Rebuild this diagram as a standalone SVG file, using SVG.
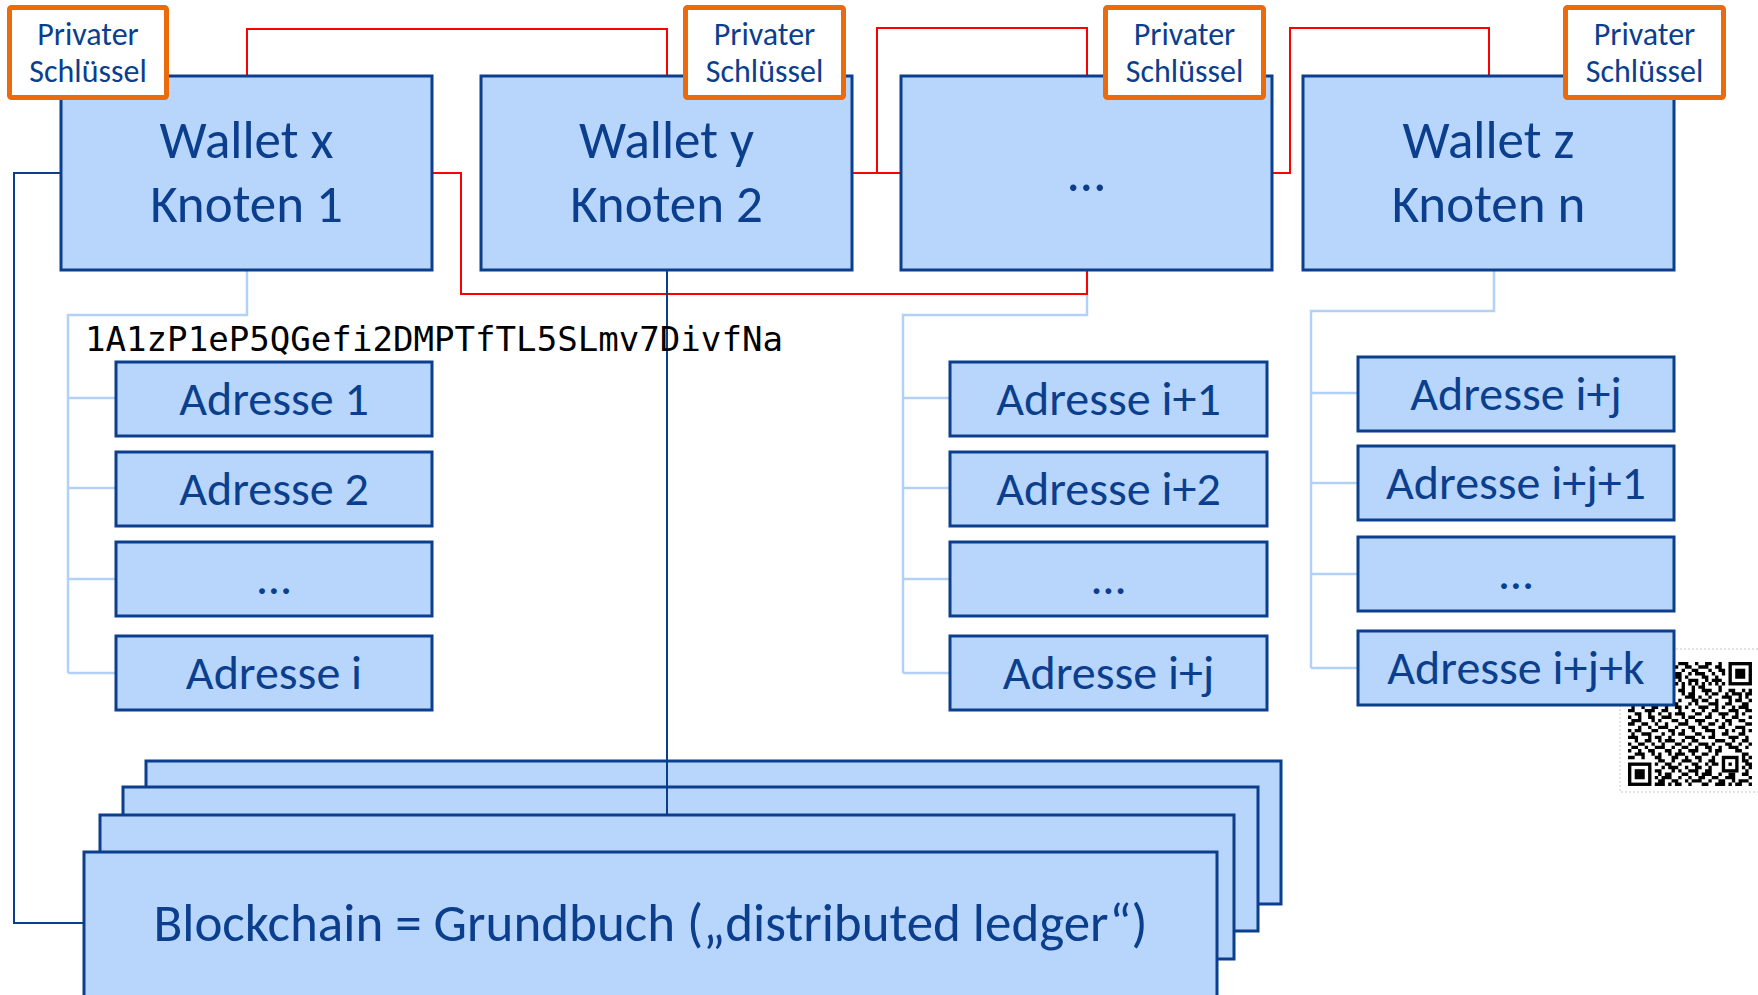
<svg xmlns="http://www.w3.org/2000/svg" width="1758" height="995" viewBox="0 0 1758 995">
  <style>
    .box { fill: #B8D6FC; stroke: #0B3F8E; stroke-width: 3; }
    .key { fill: #FFFFFF; stroke: #EB6A0B; stroke-width: 5; }
    .t { font-family: Carlito, Lato, "Liberation Sans", sans-serif; fill: #0B3F8E; text-anchor: middle; }
    .wt { font-size: 53px; }
    .at { font-size: 48px; }
    .kt { font-size: 32px; }
    .bt { font-size: 53px; }
    .red { fill: none; stroke: #FF0000; stroke-width: 2; }
    .lb { fill: none; stroke: #B3D1F7; stroke-width: 2.5; }
    .db { fill: none; stroke: #0B3F8E; stroke-width: 2; }
    .mono { font-family: "DejaVu Sans Mono", "Liberation Mono", monospace; font-size: 34px; fill: #000000; }
  </style>

  <!-- stacked ledger copies (back layers) -->
  <g id="ledger-back">
    <rect class="box" x="146" y="761" width="1135" height="143"/>
    <rect class="box" x="123" y="787" width="1135" height="144"/>
  </g>

  <!-- connectors -->
  <g id="connectors">
    <!-- address trees -->
    <path class="lb" d="M247 270V315H68V673M68 398H116M68 488H116M68 579H116M68 673H116"/>
    <path class="lb" d="M1087 270V315H903V673M903 398H950M903 488H950M903 579H950M903 673H950"/>
    <path class="lb" d="M1494 270V311H1311V668M1311 393H1358M1311 483H1358M1311 574H1358M1311 668H1358"/>
    <!-- peer links between nodes -->
    <path class="red" d="M247 76V29H667V76"/>
    <path class="red" d="M432 173H461V294H1087V270"/>
    <path class="red" d="M852 173H901M877 173V28H1087V76"/>
    <path class="red" d="M1272 173H1290V28H1489V76"/>
    <!-- nodes to ledger -->
    <path class="db" d="M61 173H14V923H84"/>
    <path class="db" d="M667 270V815"/>
  </g>

  <!-- front ledger copies -->
  <g id="ledger">
    <rect class="box" x="100" y="815" width="1134" height="144"/>
    <rect class="box" x="84" y="852" width="1133" height="150"/>
    <text class="t bt" x="650.5" y="941">Blockchain = Grundbuch („distributed ledger“)</text>
  </g>

  <!-- wallets -->
  <g id="wallet-x">
    <rect class="box" x="61" y="76" width="371" height="194"/>
    <text class="t wt" x="246.5" y="158">Wallet x</text>
    <text class="t wt" x="246.5" y="222">Knoten 1</text>
  </g>
  <g id="wallet-y">
    <rect class="box" x="481" y="76" width="371" height="194"/>
    <text class="t wt" x="666.5" y="158">Wallet y</text>
    <text class="t wt" x="666.5" y="222">Knoten 2</text>
  </g>
  <g id="wallet-dots">
    <rect class="box" x="901" y="76" width="371" height="194"/>
    <text class="t wt" x="1086.5" y="191">…</text>
  </g>
  <g id="wallet-z">
    <rect class="box" x="1303" y="76" width="371" height="194"/>
    <text class="t wt" x="1488.5" y="158">Wallet z</text>
    <text class="t wt" x="1488.5" y="222">Knoten n</text>
  </g>

  <!-- private keys -->
  <g id="key-1">
    <rect class="key" x="9.5" y="7.5" width="157" height="90" rx="2"/>
    <text class="t kt" x="88" y="45">Privater</text>
    <text class="t kt" x="88" y="82">Schlüssel</text>
  </g>
  <g id="key-2">
    <rect class="key" x="685.5" y="7.5" width="158" height="90" rx="2"/>
    <text class="t kt" x="764.5" y="45">Privater</text>
    <text class="t kt" x="764.5" y="82">Schlüssel</text>
  </g>
  <g id="key-3">
    <rect class="key" x="1105.5" y="7.5" width="158" height="90" rx="2"/>
    <text class="t kt" x="1184.5" y="45">Privater</text>
    <text class="t kt" x="1184.5" y="82">Schlüssel</text>
  </g>
  <g id="key-4">
    <rect class="key" x="1565.5" y="7.5" width="158" height="90" rx="2"/>
    <text class="t kt" x="1644.5" y="45">Privater</text>
    <text class="t kt" x="1644.5" y="82">Schlüssel</text>
  </g>

  <!-- example address string -->
  <g id="address-string">
    <text class="mono" x="85" y="351" textLength="698" lengthAdjust="spacingAndGlyphs">1A1zP1eP5QGefi2DMPTfTL5SLmv7DivfNa</text>
  </g>

  <!-- QR code of the address -->
  <g id="qr">
    <path d="M1620 649H1760M1620 649V792H1760" fill="none" stroke="#D9D9D9" stroke-width="1.5" stroke-dasharray="2 2"/>
    <rect x="1621" y="650" width="140" height="141" fill="#FFFFFF"/>
    <g transform="translate(1628 662) scale(3.35)" fill="none" stroke="#000000">
      <rect x="0.5" y="0.5" width="6" height="6" stroke-width="1"/>
      <rect x="30.5" y="0.5" width="6" height="6" stroke-width="1"/>
      <rect x="0.5" y="30.5" width="6" height="6" stroke-width="1"/>
      <rect x="28.5" y="28.5" width="4" height="4" stroke-width="1"/>
      <rect x="2" y="2" width="3" height="3" fill="#000000" stroke="none"/>
      <rect x="32" y="2" width="3" height="3" fill="#000000" stroke="none"/>
      <rect x="2" y="32" width="3" height="3" fill="#000000" stroke="none"/>
      <rect x="30" y="30" width="1" height="1" fill="#000000" stroke="none"/>
      <path stroke-width="1" d="
M9 0.5h2M12 0.5h1M15 0.5h3M20 0.5h1M23 0.5h2M27 0.5h1
M8 1.5h1M10 1.5h2M14 1.5h1M17 1.5h2M21 1.5h3M26 1.5h2
M9 2.5h1M11 2.5h3M16 2.5h1M19 2.5h2M24 2.5h1M27 2.5h2
M8 3.5h2M12 3.5h1M14 3.5h2M18 3.5h1M20 3.5h3M25 3.5h1M28 3.5h1
M10 4.5h1M13 4.5h3M17 4.5h1M22 4.5h2M26 4.5h1
M8 5.5h1M11 5.5h2M15 5.5h1M18 5.5h3M23 5.5h1M25 5.5h3
M8 6.5h1M10 6.5h1M12 6.5h1M14 6.5h1M16 6.5h1M18 6.5h1M20 6.5h1M22 6.5h1M24 6.5h1M26 6.5h1M28 6.5h1
M9 7.5h1M12 7.5h2M16 7.5h1M19 7.5h1M21 7.5h2M27 7.5h1
M0 8.5h1M2 8.5h3M6 8.5h1M8 8.5h2M12 8.5h1M15 8.5h2M19 8.5h1M22 8.5h3M27 8.5h1M30 8.5h2M34 8.5h1M36 8.5h1
M1 9.5h2M5 9.5h1M9 9.5h1M11 9.5h3M16 9.5h1M18 9.5h2M23 9.5h1M25 9.5h2M29 9.5h1M31 9.5h3M35 9.5h2
M0 10.5h3M4 10.5h1M6 10.5h1M8 10.5h1M12 10.5h2M17 10.5h3M21 10.5h1M24 10.5h1M28 10.5h3M33 10.5h1M35 10.5h1
M2 11.5h1M5 11.5h2M9 11.5h2M13 11.5h1M15 11.5h1M19 11.5h2M22 11.5h2M26 11.5h1M30 11.5h1M32 11.5h2M36 11.5h1
M0 12.5h1M3 12.5h2M6 12.5h1M10 12.5h1M12 12.5h3M18 12.5h1M20 12.5h1M24 12.5h3M29 12.5h2M34 12.5h2
M1 13.5h1M4 13.5h1M7 13.5h2M11 13.5h1M14 13.5h2M17 13.5h1M21 13.5h3M26 13.5h1M28 13.5h1M31 13.5h1M33 13.5h3
M0 14.5h2M5 14.5h3M10 14.5h2M15 14.5h1M19 14.5h1M22 14.5h1M25 14.5h2M30 14.5h3M35 14.5h2
M2 15.5h2M6 15.5h1M9 15.5h1M12 15.5h1M14 15.5h3M20 15.5h2M24 15.5h1M27 15.5h3M32 15.5h1M34 15.5h1
M0 16.5h1M3 16.5h1M6 16.5h2M10 16.5h3M16 16.5h1M18 16.5h2M23 16.5h2M28 16.5h1M31 16.5h2M36 16.5h1
M1 17.5h3M7 17.5h1M9 17.5h1M13 17.5h2M17 17.5h1M20 17.5h3M26 17.5h1M29 17.5h2M33 17.5h2
M0 18.5h2M4 18.5h2M8 18.5h1M11 18.5h1M15 18.5h3M21 18.5h1M24 18.5h2M28 18.5h1M30 18.5h1M35 18.5h2
M3 19.5h1M6 19.5h1M9 19.5h3M14 19.5h1M18 19.5h2M22 19.5h2M27 19.5h2M32 19.5h3
M0 20.5h1M2 20.5h2M7 20.5h2M12 20.5h2M16 20.5h1M19 20.5h1M23 20.5h3M29 20.5h1M31 20.5h1M34 20.5h1M36 20.5h1
M1 21.5h1M4 21.5h3M10 21.5h1M13 21.5h1M15 21.5h2M20 21.5h2M25 21.5h1M28 21.5h2M33 21.5h2
M0 22.5h3M6 22.5h1M8 22.5h2M12 22.5h1M17 22.5h3M22 22.5h1M24 22.5h2M30 22.5h3M35 22.5h1
M2 23.5h1M5 23.5h2M9 23.5h1M11 23.5h3M16 23.5h1M19 23.5h2M26 23.5h3M31 23.5h1M34 23.5h2
M0 24.5h1M3 24.5h2M7 24.5h1M10 24.5h1M14 24.5h2M18 24.5h1M21 24.5h3M25 24.5h1M29 24.5h2M33 24.5h1M36 24.5h1
M1 25.5h2M5 25.5h1M8 25.5h3M13 25.5h1M16 25.5h2M20 25.5h1M23 25.5h2M27 25.5h1M30 25.5h3M35 25.5h1
M0 26.5h1M3 26.5h1M6 26.5h2M11 26.5h2M15 26.5h1M18 26.5h3M24 26.5h1M26 26.5h2M32 26.5h2
M2 27.5h3M7 27.5h1M9 27.5h1M12 27.5h1M14 27.5h3M19 27.5h1M22 27.5h2M26 27.5h1M34 27.5h2
M0 28.5h2M4 28.5h1M8 28.5h2M13 28.5h2M17 28.5h1M20 28.5h2M25 28.5h1M34 28.5h1M36 28.5h1
M9 29.5h2M13 29.5h1M16 29.5h3M21 29.5h1M24 29.5h2M34 29.5h2
M8 30.5h1M11 30.5h2M15 30.5h1M19 30.5h2M23 30.5h1M25 30.5h2M35 30.5h2
M10 31.5h1M12 31.5h3M17 31.5h1M20 31.5h2M24 31.5h1M34 31.5h1M36 31.5h1
M8 32.5h2M13 32.5h1M15 32.5h1M18 32.5h3M23 32.5h2M35 32.5h1
M9 33.5h1M11 33.5h2M16 33.5h2M20 33.5h1M22 33.5h3M27 33.5h1M30 33.5h2M34 33.5h2
M8 34.5h1M10 34.5h3M15 34.5h1M18 34.5h1M21 34.5h2M25 34.5h2M29 34.5h3M36 34.5h1
M9 35.5h2M13 35.5h2M17 35.5h1M19 35.5h3M24 35.5h1M27 35.5h2M31 35.5h1M33 35.5h3
M8 36.5h3M12 36.5h1M14 36.5h2M18 36.5h1M22 36.5h2M26 36.5h3M30 36.5h1M32 36.5h2M36 36.5h1"/>
    </g>
  </g>

  <!-- addresses of wallet x -->
  <g id="addr-1">
    <rect class="box" x="116" y="362" width="316" height="74"/>
    <text class="t at" x="274" y="415">Adresse 1</text>
  </g>
  <g id="addr-2">
    <rect class="box" x="116" y="452" width="316" height="74"/>
    <text class="t at" x="274" y="505">Adresse 2</text>
  </g>
  <g id="addr-dots-1">
    <rect class="box" x="116" y="542" width="316" height="74"/>
    <text class="t at" x="274" y="594">…</text>
  </g>
  <g id="addr-i">
    <rect class="box" x="116" y="636" width="316" height="74"/>
    <text class="t at" x="274" y="689">Adresse i</text>
  </g>

  <!-- addresses of the middle wallet -->
  <g id="addr-i1">
    <rect class="box" x="950" y="362" width="317" height="74"/>
    <text class="t at" x="1108.5" y="415">Adresse i+1</text>
  </g>
  <g id="addr-i2">
    <rect class="box" x="950" y="452" width="317" height="74"/>
    <text class="t at" x="1108.5" y="505">Adresse i+2</text>
  </g>
  <g id="addr-dots-2">
    <rect class="box" x="950" y="542" width="317" height="74"/>
    <text class="t at" x="1108.5" y="594">…</text>
  </g>
  <g id="addr-ij">
    <rect class="box" x="950" y="636" width="317" height="74"/>
    <text class="t at" x="1108.5" y="689">Adresse i+j</text>
  </g>

  <!-- addresses of wallet z -->
  <g id="addr-ij-z">
    <rect class="box" x="1358" y="357" width="316" height="74"/>
    <text class="t at" x="1516" y="410">Adresse i+j</text>
  </g>
  <g id="addr-ij1">
    <rect class="box" x="1358" y="446" width="316" height="74"/>
    <text class="t at" x="1516" y="499">Adresse i+j+1</text>
  </g>
  <g id="addr-dots-3">
    <rect class="box" x="1358" y="537" width="316" height="74"/>
    <text class="t at" x="1516" y="589">…</text>
  </g>
  <g id="addr-ijk">
    <rect class="box" x="1358" y="631" width="316" height="74"/>
    <text class="t at" x="1516" y="684">Adresse i+j+k</text>
  </g>
</svg>
